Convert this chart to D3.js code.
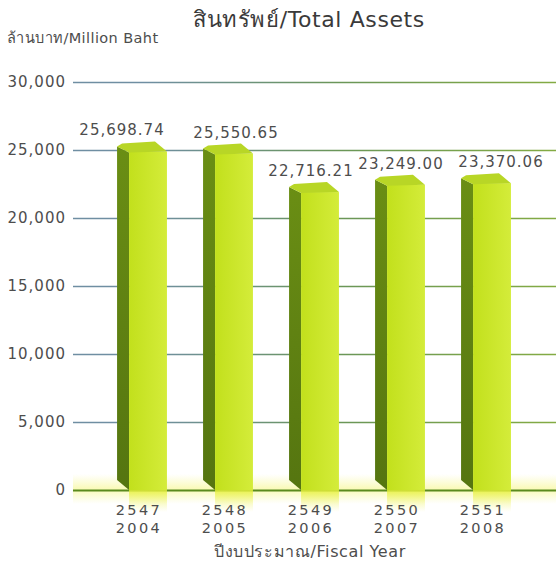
<!DOCTYPE html>
<html>
<head>
<meta charset="utf-8">
<script src="https://cdn.jsdelivr.net/npm/d3@7"></script>
<style>
  html, body { margin: 0; padding: 0; background: #fff; }
  svg { display: block; }
  text { font-family: "DejaVu Sans", "Noto Sans", sans-serif; fill: #4d4d4d; }
</style>
</head>
<body>
<div id="chart"></div>
<script>
const yearsBE = ["2547", "2548", "2549", "2550", "2551"];
const yearsAD = ["2004", "2005", "2006", "2007", "2008"];
const assets = [25698.74, 25550.65, 22716.21, 23249.0, 23370.06];
const yTicks = [0, 5000, 10000, 15000, 20000, 25000, 30000];

(() => {
  const width = 556;
  const height = 569;
  const y0 = 490;
  const gridLeft = 73;

  // small nudges so value labels sit like in the print
  const labelDx = [-20, 8, -3, 1, 15];

  const svg = d3
    .select("#chart")
    .append("svg")
    .attr("width", width)
    .attr("height", height);

  const defs = svg.append("defs");

  const gridGrad = defs
    .append("linearGradient")
    .attr("id", "gridGrad")
    .attr("gradientUnits", "userSpaceOnUse")
    .attr("x1", gridLeft)
    .attr("x2", width)
    .attr("y1", 0)
    .attr("y2", 0);
  gridGrad.append("stop").attr("offset", "0%").attr("stop-color", "#6f8ea2");
  gridGrad.append("stop").attr("offset", "40%").attr("stop-color", "#6a9658");
  gridGrad.append("stop").attr("offset", "100%").attr("stop-color", "#8cb23c");

  const haze = defs
    .append("linearGradient")
    .attr("id", "haze")
    .attr("x1", 0)
    .attr("x2", 0)
    .attr("y1", 0)
    .attr("y2", 1);
  haze.append("stop").attr("offset", "0%").attr("stop-color", "#f4f560").attr("stop-opacity", 0);
  haze.append("stop").attr("offset", "50%").attr("stop-color", "#f0f24a").attr("stop-opacity", 0.4);
  haze.append("stop").attr("offset", "100%").attr("stop-color", "#f4f560").attr("stop-opacity", 0);

  const drip = defs
    .append("linearGradient")
    .attr("id", "drip")
    .attr("x1", 0)
    .attr("x2", 0)
    .attr("y1", 0)
    .attr("y2", 1);
  drip.append("stop").attr("offset", "0%").attr("stop-color", "#e6f03a").attr("stop-opacity", 0.85);
  drip.append("stop").attr("offset", "100%").attr("stop-color", "#f2f570").attr("stop-opacity", 0);

  const frontGrad = defs
    .append("linearGradient")
    .attr("id", "front")
    .attr("x1", 0)
    .attr("x2", 1)
    .attr("y1", 0)
    .attr("y2", 0);
  frontGrad.append("stop").attr("offset", "0%").attr("stop-color", "#c2e01c");
  frontGrad.append("stop").attr("offset", "100%").attr("stop-color", "#d4ec3a");

  const sideGrad = defs
    .append("linearGradient")
    .attr("id", "side")
    .attr("x1", 0)
    .attr("x2", 0)
    .attr("y1", 0)
    .attr("y2", 1);
  sideGrad.append("stop").attr("offset", "0%").attr("stop-color", "#6a8e14");
  sideGrad.append("stop").attr("offset", "100%").attr("stop-color", "#557510");

  const yScale = d3.scaleLinear().domain([0, 30000]).range([y0, 82]);
  const xScale = d3
    .scaleBand()
    .domain(yearsBE)
    .range([99, 529])
    .paddingInner(0.42)
    .paddingOuter(0.21);

  // Title
  svg
    .append("text")
    .attr("x", 309)
    .attr("y", 27)
    .style("font-size", "22px")
    .style("letter-spacing", "0.6px")
    .style("text-anchor", "middle")
    .style("fill", "#3a3a3a")
    .text("สินทรัพย์/Total Assets");

  svg
    .append("text")
    .attr("x", 7)
    .attr("y", 43)
    .style("font-size", "14.5px")
    .style("letter-spacing", "0.4px")
    .text("ล้านบาท/Million Baht");

  // haze along the base line
  svg
    .append("rect")
    .attr("x", gridLeft)
    .attr("y", y0 - 16)
    .attr("width", width - gridLeft)
    .attr("height", 30)
    .attr("fill", "url(#haze)");

  // Grid + y labels
  const yAxis = d3
    .axisLeft(yScale)
    .tickValues(yTicks)
    .tickSize(-(width - gridLeft))
    .tickPadding(8)
    .tickFormat((d) => (d === 0 ? "0" : d3.format(",")(d)));

  const gy = svg
    .append("g")
    .attr("id", "y-axis")
    .attr("transform", `translate(${gridLeft},0)`)
    .call(yAxis);
  gy.select(".domain").remove();
  gy.selectAll(".tick line")
    .attr("stroke", (d) => (d === 0 ? "#5a8a1e" : "url(#gridGrad)"))
    .attr("stroke-width", (d) => (d === 0 ? 2.2 : 1.6));
  gy.selectAll(".tick text")
    .attr("x", -7)
    .style("font-size", "15px")
    .style("letter-spacing", "1px")
    .style("font-family", '"DejaVu Sans", sans-serif')
    .style("fill", "#4d4d4d");

  // Bars
  const side = 12;
  const bars = svg
    .append("g")
    .selectAll("g")
    .data(assets)
    .join("g")
    .attr("transform", (d, i) => `translate(${xScale(yearsBE[i])},0)`);

  const bw = xScale.bandwidth();

  bars
    .append("rect")
    .attr("x", side)
    .attr("y", y0)
    .attr("width", bw - side)
    .attr("height", 22)
    .attr("fill", "url(#drip)");

  bars
    .append("polygon")
    .attr("fill", "url(#side)")
    .attr("points", (d) => {
      const yv = yScale(d);
      return [
        [0, yv + 6],
        [side, yv + 12],
        [side, y0],
        [0, y0 - 10],
      ].join(" ");
    });

  bars
    .append("rect")
    .attr("x", side)
    .attr("y", (d) => yScale(d) + 11)
    .attr("width", bw - side)
    .attr("height", (d) => y0 - yScale(d) - 11)
    .attr("fill", "url(#front)");

  bars
    .append("polygon")
    .attr("fill", "#b8d626")
    .attr("points", (d) => {
      const yv = yScale(d);
      return [
        [0, yv + 6],
        [5, yv + 3],
        [bw - 12, yv + 1],
        [bw, yv + 11],
        [side, yv + 12],
      ].join(" ");
    });

  // value labels
  bars
    .append("text")
    .attr("x", (d, i) => bw / 2 + labelDx[i])
    .attr("y", (d) => yScale(d) - 5)
    .style("font-size", "15px")
    .style("letter-spacing", "1px")
    .style("text-anchor", "middle")
    .text((d) => d3.format(",.2f")(d));

  // x labels, two rows
  const xLabels = svg.append("g").attr("id", "x-labels");
  [yearsBE, yearsAD].forEach((row, r) => {
    xLabels
      .append("g")
      .selectAll("text")
      .data(row)
      .join("text")
      .attr("x", (d, i) => xScale(yearsBE[i]) + bw / 2 - 3)
      .attr("y", 515 + r * 18)
      .style("font-size", "14.5px")
      .style("letter-spacing", "2.4px")
      .style("text-anchor", "middle")
      .text((d) => d);
  });

  svg
    .append("text")
    .attr("x", 310)
    .attr("y", 557)
    .style("font-size", "16px")
    .style("letter-spacing", "0.6px")
    .style("text-anchor", "middle")
    .text("ปีงบประมาณ/Fiscal Year");
})();
</script>
</body>
</html>
